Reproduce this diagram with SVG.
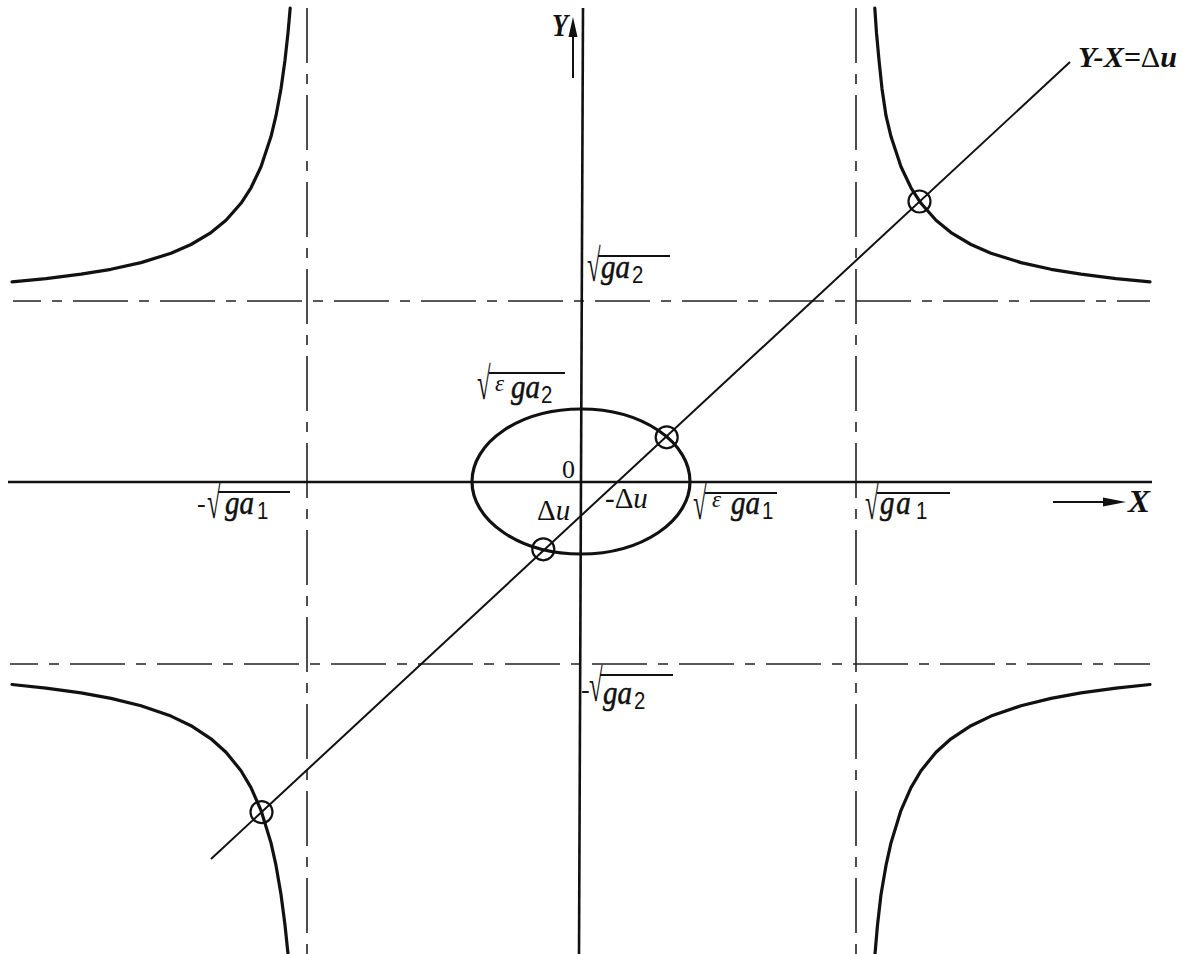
<svg xmlns="http://www.w3.org/2000/svg" width="1183" height="954" viewBox="0 0 1183 954">
<style>
.ax{stroke:#111;stroke-width:2.6;fill:none}
.dd{stroke:#222;stroke-width:1.6;stroke-dasharray:55 11 10 11;fill:none}
.cv{stroke:#111;stroke-width:3.2;fill:none;stroke-linejoin:round;stroke-linecap:round}
.ln{stroke:#111;stroke-width:2;fill:none}
.mk{stroke:#111;stroke-width:2.2;fill:none}
.t{font-family:"Liberation Serif",serif;fill:#111}
.bi{font-style:italic;font-weight:bold}
.it{font-style:italic}
.rad{font-family:"Liberation Serif",serif;font-size:46px;fill:#111}
.ga{font-family:"Liberation Serif",serif;font-style:italic;font-size:34px;fill:#111;stroke:#111;stroke-width:0.6}
.sub{font-family:"Liberation Sans",sans-serif;font-size:24px;fill:#111}
.eps{font-family:"Liberation Serif",serif;font-style:italic;font-size:23px;fill:#111}
.hy{font-family:"Liberation Serif",serif;font-size:26px;fill:#111}
.ol{stroke:#111;stroke-width:2.2}
</style>
<rect width="1183" height="954" fill="#fff"/>
<g id="guides">
<line class="dd" x1="13" y1="301" x2="1150" y2="301" stroke-dashoffset="27"/>
<line class="dd" x1="10" y1="664" x2="1150" y2="664" stroke-dashoffset="27"/>
<line class="dd" x1="307" y1="8" x2="307" y2="954"/>
<line class="dd" x1="856" y1="8" x2="856" y2="954"/>
</g>
<g id="axes">
<line class="ax" x1="8" y1="482" x2="1152" y2="482"/>
<line class="ax" x1="583" y1="8" x2="579" y2="954"/>
<line class="ln" x1="573" y1="78" x2="573" y2="30" stroke-width="1.6"/>
<polygon points="573,17 568.5,37 577.5,37" fill="#111"/>
<line class="ln" x1="1053" y1="502" x2="1108" y2="502" stroke-width="1.6"/>
<polygon points="1126,502 1103,497.5 1103,506.5" fill="#111"/>
</g>
<g id="hyperbolas">
<polyline class="cv" points="290.2,8 288,32.9 285,60.2 281,88.7 276,115.7 271,136.6 261,166.8 251,187.8 241,203.3 226,220.3 211,232.6 191,244.5 171,253.3 141,262.6 111,269.3 81,274.2 46,278.6 12,281.8"/>
<polyline class="cv" points="874.8,8 876.5,32.9 879,60.2 882,88.7 886,115.7 891,136.6 901,166.8 911,187.8 921,203.3 936,220.3 951,232.6 971,244.5 991,253.3 1021,262.6 1051,269.3 1081,274.2 1116,278.6 1150,281.8"/>
<polyline class="cv" points="288,954 285,925 281,894.5 276,865.4 271,842.9 261,810.3 251,787.6 241,770.7 226,752.2 211,738.8 191,725.7 171,716.1 141,705.7 111,698.4 81,692.9 46,688.1 12,684.5"/>
<polyline class="cv" points="875,954 877.5,925 881,894.5 886,865.4 891,842.9 901,810.3 911,787.6 921,770.7 936,752.2 951,738.8 971,725.7 991,716.1 1021,705.7 1051,698.4 1081,692.9 1116,688.1 1150,684.5"/>
</g>
<g id="ellipse">
<ellipse class="cv" cx="581" cy="481.5" rx="109" ry="72.5"/>
</g>
<g id="connectors">
<line class="ln" x1="211" y1="859" x2="1070" y2="62"/>
</g>
<g id="markers">
<circle class="mk" cx="919.5" cy="201.5" r="11"/>
<circle class="mk" cx="666.7" cy="437.3" r="11"/>
<circle class="mk" cx="543.3" cy="549.3" r="11"/>
<circle class="mk" cx="261.5" cy="812.1" r="11"/>
</g>
<g id="labels">
<text class="t bi" x="552" y="36" font-size="31" textLength="16" lengthAdjust="spacingAndGlyphs">Y</text>
<text class="t bi" x="1128" y="512" font-size="31" textLength="22" lengthAdjust="spacingAndGlyphs">X</text>
<text class="t" x="1078" y="67" font-size="29" textLength="99" lengthAdjust="spacingAndGlyphs"><tspan class="bi">Y-X=</tspan><tspan>Δ</tspan><tspan class="bi">u</tspan></text>
<text class="t" x="562" y="478" font-size="26">0</text>
<text class="t" x="537" y="520" font-size="29"><tspan>Δ</tspan><tspan class="it">u</tspan></text>
<text class="t" x="605" y="508" font-size="29">-<tspan>Δ</tspan><tspan class="it">u</tspan></text>
</g>
<g id="sqrt-ga2">
<line class="ol" x1="598" y1="256" x2="670" y2="256"/>
<text class="rad" transform="translate(587,281) scale(0.54,1)">√</text>
<text class="ga" transform="translate(601,278) scale(0.85,1)">ga</text>
<text class="sub" transform="translate(632,283) scale(0.85,1)">2</text>
</g>
<g id="sqrt-eps-ga2">
<line class="ol" x1="489" y1="373" x2="565" y2="373"/>
<text class="rad" transform="translate(477,399) scale(0.54,1)">√</text>
<text class="eps" x="495" y="391">ε</text>
<text class="ga" transform="translate(511,398) scale(0.85,1)">ga</text>
<text class="sub" transform="translate(541,403) scale(0.85,1)">2</text>
</g>
<g id="neg-sqrt-ga1">
<line class="ol" x1="218" y1="492" x2="290" y2="492"/>
<text class="hy" x="197" y="512">-</text>
<text class="rad" transform="translate(207,518) scale(0.54,1)">√</text>
<text class="ga" transform="translate(225,514) scale(0.85,1)">ga</text>
<text class="sub" transform="translate(257,519) scale(0.85,1)">1</text>
</g>
<g id="sqrt-eps-ga1">
<line class="ol" x1="705" y1="493" x2="777" y2="493"/>
<text class="rad" transform="translate(693,519) scale(0.54,1)">√</text>
<text class="eps" x="712" y="507">ε</text>
<text class="ga" transform="translate(731,514) scale(0.85,1)">ga</text>
<text class="sub" transform="translate(762,519) scale(0.85,1)">1</text>
</g>
<g id="sqrt-ga1">
<line class="ol" x1="877" y1="493" x2="950" y2="493"/>
<text class="rad" transform="translate(865,519) scale(0.54,1)">√</text>
<text class="ga" transform="translate(880,514) scale(0.85,1)" letter-spacing="2">ga</text>
<text class="sub" transform="translate(916,519) scale(0.85,1)">1</text>
</g>
<g id="neg-sqrt-ga2">
<line class="ol" x1="600" y1="675" x2="673" y2="675"/>
<text class="hy" x="581" y="698" font-size="24">-</text>
<text class="rad" transform="translate(589,701) scale(0.54,1)">√</text>
<text class="ga" transform="translate(603,704) scale(0.85,1)">ga</text>
<text class="sub" transform="translate(634,709) scale(0.85,1)">2</text>
</g>
</svg>
